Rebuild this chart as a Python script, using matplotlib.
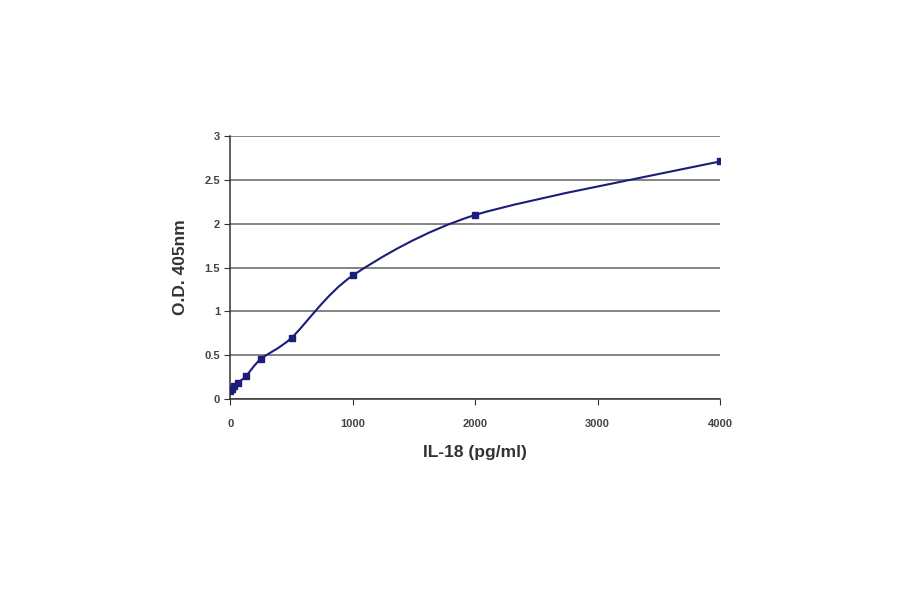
import numpy as np
import matplotlib.pyplot as plt
from matplotlib.path import Path
from matplotlib.patches import PathPatch
from matplotlib.transforms import IdentityTransform

plt.rcParams['font.family'] = ['Liberation Sans', 'DejaVu Sans']

# IL-18 standard curve
conc = [0, 15.6, 31.25, 62.5, 125, 250, 500, 1000, 2000, 4000]
od = [0.09, 0.12, 0.15, 0.19, 0.26, 0.46, 0.70, 1.41, 2.10, 2.71]
x_ticks = [0, 1000, 2000, 3000, 4000]
y_ticks = [0, 0.5, 1, 1.5, 2, 2.5, 3]
y_labels = ['0', '0.5', '1', '1.5', '2', '2.5', '3']

line_col = '#1c1c7a'


def smooth_path(xs, ys, ax, tension=1/6):
  # Excel-style smoothed line: cubic Bezier between points (in display space)
  pts = ax.transData.transform(np.column_stack([xs, ys]))
  verts = [pts[0]]
  codes = [Path.MOVETO]
  n = len(pts)
  for i in range(n - 1):
    p0 = pts[i - 1] if i > 0 else pts[i]
    p1 = pts[i]
    p2 = pts[i + 1]
    p3 = pts[i + 2] if i + 2 < n else pts[i + 1]
    c1 = p1 + (p2 - p0) * tension
    c2 = p2 - (p3 - p1) * tension
    verts += [c1, c2, p2]
    codes += [Path.CURVE4] * 3
  return Path(verts, codes)


fig = plt.figure(figsize=(9, 5.94), dpi=100)
ax = fig.add_axes([0.256, 0.328, 0.544, 0.443])
ax.set_xlim(0, 4000)
ax.set_ylim(0, 3)

ax.set_yticks(y_ticks)
ax.set_yticklabels(y_labels)
ax.set_xticks(x_ticks)
ax.yaxis.grid(True, color='#7a7a7a', linewidth=1.3)
ax.set_axisbelow(True)
for s in ['top', 'right']:
  ax.spines[s].set_visible(False)
for s in ['left', 'bottom']:
  ax.spines[s].set_color('#333333')
  ax.spines[s].set_linewidth(1.1)
ax.tick_params(axis='both', labelsize=8, colors='#333333', length=4, direction='out')
ax.tick_params(axis='x', pad=10)
for lab in ax.get_xticklabels() + ax.get_yticklabels():
  lab.set_fontweight('bold')
  lab.set_color('#444444')

fig.canvas.draw()
patch = PathPatch(smooth_path(conc, od, ax, tension=0.14), facecolor='none', edgecolor=line_col,
                  linewidth=1.5, zorder=3)
patch.set_transform(IdentityTransform())
ax.add_artist(patch)
ax.plot(conc, od, linestyle='none', marker='s', markersize=5, color=line_col, zorder=4)

ax.set_xlabel('IL-18 (pg/ml)', fontsize=12.5, fontweight='bold', color='#333333', labelpad=12)
ax.set_ylabel('O.D. 405nm', fontsize=12.5, fontweight='bold', color='#333333', labelpad=12)

fig.savefig('out.png', dpi=100)
